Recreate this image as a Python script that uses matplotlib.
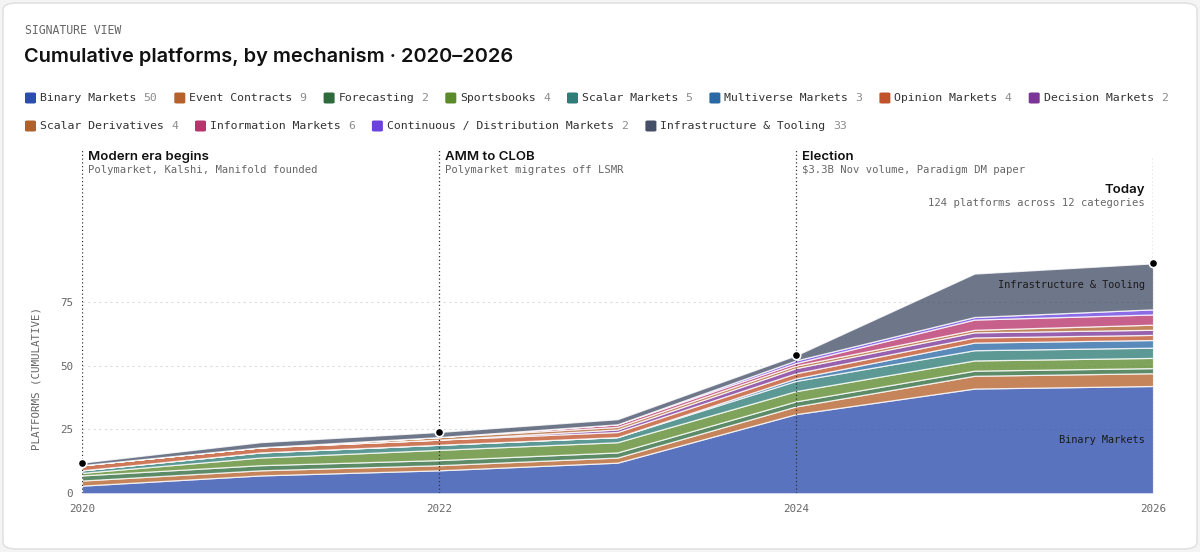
import matplotlib
matplotlib.use("Agg")
import matplotlib.pyplot as plt
from matplotlib.patches import FancyBboxPatch

# ---- data ----
years = [2020, 2021, 2022, 2023, 2024, 2025, 2026]

binary      = [3, 7, 9, 12, 31, 41, 42]
event       = [2, 2, 2, 2, 3, 5, 5]
forecasting = [2, 2, 2, 2, 2, 2, 2]
sportsbooks = [1, 3, 4, 4, 4, 4, 4]
scalar      = [1, 2, 2, 2, 4, 4, 4]
multiverse  = [0, 0, 0, 0, 1, 3, 3]
opinion     = [2, 2, 2, 2, 2, 2, 2]
decision    = [0, 0, 0, 1, 2, 2, 2]
scalar_der  = [0, 0, 1, 1, 1, 1, 2]
information = [0, 0, 0, 1, 1, 4, 4]
continuous  = [0, 0, 0, 0, 1, 1, 2]
infra       = [1, 2, 2, 2, 2, 17, 18]

series = [binary, event, forecasting, sportsbooks, scalar, multiverse,
          opinion, decision, scalar_der, information, continuous, infra]

names = ["Binary Markets", "Event Contracts", "Forecasting", "Sportsbooks",
         "Scalar Markets", "Multiverse Markets", "Opinion Markets",
         "Decision Markets", "Scalar Derivatives", "Information Markets",
         "Continuous / Distribution Markets", "Infrastructure & Tooling"]
counts = [50, 9, 2, 4, 5, 3, 4, 2, 4, 6, 2, 33]
colors = ["#2c4cae", "#b5612c", "#2e6a3c", "#5b8a2b", "#2e7d78", "#2a69a6",
          "#c0532b", "#7b3597", "#b0622d", "#b8346c", "#6b42e0", "#454f68"]

events = [(2020, "Modern era begins", "Polymarket, Kalshi, Manifold founded"),
          (2022, "AMM to CLOB", "Polymarket migrates off LSMR"),
          (2024, "Election", "$3.3B Nov volume, Paradigm DM paper")]
dot_years = [2020, 2022, 2024, 2026]

MONO = "DejaVu Sans Mono"
SANS = "Inter"

W, H = 1200, 552
fig = plt.figure(figsize=(W / 100, H / 100), dpi=100)
fig.patch.set_facecolor("#f4f4f4")


def fx(x):
    return x / W


def fy(y):
    return 1 - y / H


# card behind everything
card = FancyBboxPatch((fx(3), fy(549)), fx(1194), 546 / H,
                      boxstyle="round,pad=0,rounding_size=0.012",
                      transform=fig.transFigure, facecolor="white",
                      edgecolor="#e2e2e2", linewidth=1.2, zorder=-10)
fig.patches.append(card)

fig.text(fx(25), fy(31), "SIGNATURE VIEW", family=MONO, fontsize=8.3,
         color="#666666", va="center")
fig.text(fx(24), fy(57), "Cumulative platforms, by mechanism \u00b7 2020\u20132026",
         family=SANS, fontweight="semibold", fontsize=14.4, color="#111111",
         va="center")

# legend (two rows, monospace)
cw = 6.9
rows = [(98, range(0, 8)), (126, range(8, 12))]
for ly, idx in rows:
    x = 25
    for i in idx:
        fig.patches.append(FancyBboxPatch((fx(x), fy(ly + 5.5)), fx(11), 11 / H,
                                          boxstyle="round,pad=0,rounding_size=0.002",
                                          transform=fig.transFigure,
                                          facecolor=colors[i], edgecolor="none"))
        tx = x + 15
        fig.text(fx(tx), fy(ly), names[i], family=MONO, fontsize=8.25,
                 color="#333333", va="center")
        tx += (len(names[i]) + 1) * cw
        fig.text(fx(tx), fy(ly), str(counts[i]), family=MONO, fontsize=8.25,
                 color="#8c8c8c", va="center")
        tx += len(str(counts[i])) * cw
        x = tx + 17

# chart
y0_px, ytop_px, kpx = 493.3, 150, 2.555
ax = fig.add_axes([fx(82), fy(y0_px), fx(1153) - fx(82), (y0_px - ytop_px) / H])
ax.patch.set_alpha(0)
ax.set_xlim(2020, 2026)
ax.set_ylim(0, (y0_px - ytop_px) / kpx)

ax.stackplot(years, *series, colors=colors, alpha=0.78,
             edgecolor="white", linewidth=0.9, zorder=2)

for g in [25, 50, 75]:
    ax.axhline(g, color="#dcdcdc", linewidth=0.8, linestyle=(0, (2, 3)), zorder=1)

for s in ax.spines.values():
    s.set_visible(False)
ax.set_yticks([0, 25, 50, 75])
ax.set_xticks([2020, 2022, 2024, 2026])
ax.set_xticklabels(["2020", "2022", "2024", "2026"])
ax.tick_params(length=0, labelsize=7.8, labelcolor="#666666")
ax.tick_params(axis="y", pad=6.5)
ax.tick_params(axis="x", pad=8)
for lab in ax.get_xticklabels() + ax.get_yticklabels():
    lab.set_family(MONO)

fig.text(fx(37), fy(378), "PLATFORMS (CUMULATIVE)", family=MONO, fontsize=7.8,
         color="#666666", rotation=90, va="center", ha="center")

# event markers
totals = [sum(s[i] for s in series) for i in range(len(years))]
for yr, head, sub in events:
    ax.axvline(yr, color="#333333", linewidth=0.9, linestyle=(0, (1, 2)), zorder=3)
    ax.annotate(head, xy=(yr, 1), xycoords=("data", "axes fraction"),
                xytext=(4.4, -5), textcoords="offset points", family=SANS,
                fontweight="semibold", fontsize=9.5, color="#111111",
                va="center", ha="left")
    ax.annotate(sub, xy=(yr, 1), xycoords=("data", "axes fraction"),
                xytext=(4.4, -14.5), textcoords="offset points", family=MONO,
                fontsize=7.6, color="#666666", va="center", ha="left")

ax.axvline(2026, ymax=(y0_px - 157) / (y0_px - ytop_px), color="#333333",
           linewidth=0.9, linestyle=(0, (1, 2)), zorder=3)
ax.annotate("Today", xy=(2026, 1), xycoords=("data", "axes fraction"),
            xytext=(-5.8, -28.8), textcoords="offset points", family=SANS,
            fontweight="semibold", fontsize=9.5, color="#111111",
            va="center", ha="right")
ax.annotate("124 platforms across 12 categories", xy=(2026, 1),
            xycoords=("data", "axes fraction"), xytext=(-5.8, -38.2),
            textcoords="offset points", family=MONO, fontsize=7.6,
            color="#666666", va="center", ha="right")

for yr in dot_years:
    i = years.index(yr)
    ax.plot(yr, totals[i], "o", color="black", markersize=6,
            markeredgecolor="white", markeredgewidth=1.2, zorder=5, clip_on=False)

# in-chart labels
ax.annotate("Infrastructure & Tooling", xy=(2026, (y0_px - 285) / kpx),
            xytext=(-5.8, 0), textcoords="offset points", family=MONO,
            fontsize=7.4, color="#1a1a1a", va="center", ha="right", zorder=4)
ax.annotate("Binary Markets", xy=(2026, (y0_px - 440) / kpx),
            xytext=(-5.8, 0), textcoords="offset points", family=MONO,
            fontsize=7.4, color="#1a1a1a", va="center", ha="right", zorder=4)

fig.savefig("out.png", dpi=100, facecolor=fig.get_facecolor())
